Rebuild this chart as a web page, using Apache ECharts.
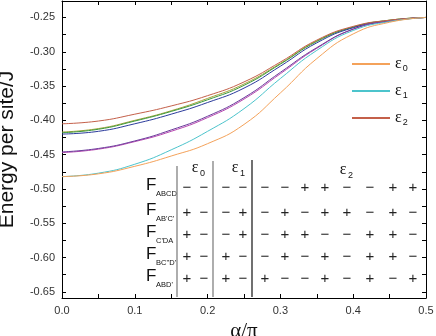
<!DOCTYPE html>
<html>
<head>
<meta charset="utf-8">
<script src="https://cdn.jsdelivr.net/npm/echarts@6/dist/echarts.min.js"></script>
<style>
  html, body { margin: 0; padding: 0; background: #fff; }
  #main { width: 436px; height: 336px; }
</style>
</head>
<body>
<div id="main"></div>
<script>
// alpha/pi sample points
const alpha = [0, 0.05, 0.1, 0.15, 0.2, 0.25, 0.3, 0.35, 0.4, 0.45, 0.5];

// energy per site
const eps0 = [-0.482, -0.478, -0.467, -0.452, -0.434, -0.406, -0.360, -0.310, -0.274, -0.257, -0.250];
const eps1 = [-0.482, -0.477, -0.464, -0.443, -0.416, -0.383, -0.339, -0.298, -0.269, -0.256, -0.250];
const eps2 = [-0.405, -0.401, -0.391, -0.379, -0.364, -0.344, -0.315, -0.283, -0.263, -0.254, -0.250];
const greenCurve = [-0.418, -0.413, -0.401, -0.387, -0.370, -0.349, -0.318, -0.285, -0.264, -0.254, -0.250];
const oliveCurve = [-0.417, -0.412, -0.400, -0.386, -0.368, -0.347, -0.317, -0.284, -0.264, -0.254, -0.250];
const navyCurve = [-0.420, -0.416, -0.405, -0.391, -0.374, -0.353, -0.321, -0.287, -0.265, -0.255, -0.250];
const purpleCurve = [-0.446, -0.441, -0.430, -0.414, -0.394, -0.367, -0.330, -0.294, -0.267, -0.255, -0.250];
const magentaCurve = [-0.447, -0.442, -0.431, -0.416, -0.396, -0.369, -0.332, -0.295, -0.267, -0.255, -0.250];

// axis labels
const xLabels = [0, 0.1, 0.2, 0.3, 0.4, 0.5];
const yLabels = [-0.65, -0.60, -0.55, -0.50, -0.45, -0.40, -0.35, -0.30, -0.25];

// sign table
const tableHeads = ['0', '1', '2'];
const rowNames = ['ABCD', "AB'C'", "C'DA", "BC''D'", "ABD'"];
const signRows = [
  '−−−−−−++−−++',
  '+−−+−+−++−+−',
  '+−−+−++−−++−',
  '+−+−−+−+−++−',
  '+−+−+−−+−+−+'
];

function midTicks(arr) {
  var out = [];
  for (var i = 0; i < arr.length; i++) {
    out.push(arr[i]);
    if (i < arr.length - 1) out.push((arr[i] + arr[i + 1]) / 2);
  }
  return out;
}
const xTicks = midTicks(xLabels);
const yTicks = midTicks(yLabels);

const chart = echarts.init(document.getElementById('main'));

function mk(name, vals, color, z) {
  return {
    name: name,
    type: 'line',
    data: alpha.map(function (a, i) { return [a, vals[i]]; }),
    smooth: 0.5,
    symbol: 'none',
    lineStyle: { color: color, width: 1 },
    itemStyle: { color: color },
    z: z || 2
  };
}

// table graphics (annotation)
const colX = [187, 204, 226, 243, 265, 285, 305, 325, 347, 370, 393, 413];
const rowY = [188, 213, 235, 257, 279];
const graphics = [];
signRows.forEach(function (row, r) {
  row.split('').forEach(function (s, c) {
    graphics.push({
      type: 'text',
      style: {
        text: s, x: colX[c], y: rowY[r], fill: '#222',
        font: '15px "Liberation Sans"', align: 'center', verticalAlign: 'middle'
      }
    });
  });
  graphics.push({
    type: 'text',
    style: { text: 'F', x: 146, y: rowY[r] - 3, fill: '#111', font: '17px "Liberation Sans"', verticalAlign: 'middle' }
  });
  graphics.push({
    type: 'text',
    style: { text: rowNames[r], x: 156, y: rowY[r] + 6, fill: '#111', font: '7.5px "Liberation Sans"', verticalAlign: 'middle' }
  });
});
[[195, 168, 0], [235, 168, 1], [343, 170, 2]].forEach(function (h) {
  graphics.push({
    type: 'text',
    style: { text: 'ε', x: h[0], y: h[1], fill: '#111', font: '16px "Liberation Serif"', align: 'center', verticalAlign: 'middle' }
  });
  graphics.push({
    type: 'text',
    style: { text: tableHeads[h[2]], x: h[0] + 5, y: h[1] + 6, fill: '#111', font: '9px "Liberation Sans"', verticalAlign: 'middle' }
  });
});
[[177, 166, '#777'], [213, 161, '#777'], [252, 160, '#111']].forEach(function (v) {
  graphics.push({
    type: 'line',
    shape: { x1: v[0], y1: v[1], x2: v[0], y2: 297 },
    style: { stroke: v[2], lineWidth: 1.2 }
  });
});

const axisCommon = {
  type: 'value',
  axisLine: { show: true, onZero: false, lineStyle: { color: '#000', width: 1 } },
  splitLine: { show: false }
};

const option = {
  animation: false,
  backgroundColor: '#fff',
  grid: { left: 62, right: 10, top: 1, bottom: 38, outerBoundsMode: 'none', containLabel: false },
  legend: {
    data: ['ε0', 'ε1', 'ε2'],
    orient: 'vertical',
    left: 347,
    top: 51,
    itemWidth: 38,
    itemHeight: 2,
    itemGap: 10,
    icon: 'rect',
    selectedMode: false,
    formatter: function (n) { return '{e|ε}{s|' + n.slice(1) + '}'; },
    textStyle: {
      rich: {
        e: { fontSize: 16, fontFamily: 'Liberation Serif', color: '#111', lineHeight: 18, verticalAlign: 'middle' },
        s: { fontSize: 9, fontFamily: 'Liberation Sans', color: '#111', lineHeight: 9, verticalAlign: 'bottom', padding: [6, 0, 0, 1] }
      }
    }
  },
  xAxis: [
    Object.assign({}, axisCommon, {
      min: 0, max: 0.5, position: 'bottom',
      axisTick: { inside: true, length: 4, customValues: xTicks, lineStyle: { color: '#000' } },
      axisLabel: { customValues: xLabels, color: '#333', fontSize: 11, fontFamily: 'Liberation Sans', margin: 7,
        formatter: function (v) { return v.toFixed(1); } },
      name: 'α/π', nameLocation: 'middle', nameGap: 21,
      nameTextStyle: { fontSize: 21, fontFamily: 'Liberation Serif', color: '#111' }
    }),
    Object.assign({}, axisCommon, {
      min: 0, max: 0.5, position: 'top',
      axisTick: { inside: true, length: 4, customValues: xTicks, lineStyle: { color: '#000' } },
      axisLabel: { show: false }
    })
  ],
  yAxis: [
    Object.assign({}, axisCommon, {
      min: -0.659, max: -0.226, position: 'left',
      axisTick: { inside: true, length: 4, customValues: yTicks, lineStyle: { color: '#000' } },
      axisLabel: { customValues: yLabels, color: '#333', fontSize: 11, fontFamily: 'Liberation Sans', margin: 7,
        formatter: function (v) { return v.toFixed(2); } },
      name: 'Energy per site/J', nameLocation: 'middle', nameGap: 44,
      nameTextStyle: { fontSize: 21, fontFamily: 'Liberation Sans', color: '#111' }
    }),
    Object.assign({}, axisCommon, {
      min: -0.659, max: -0.226, position: 'right',
      axisTick: { inside: true, length: 4, customValues: yTicks, lineStyle: { color: '#000' } },
      axisLabel: { show: false }
    })
  ],
  series: [
    mk('ε2', eps2, '#c4604a', 3),
    mk('olive', oliveCurve, '#a6a23a'),
    mk('green', greenCurve, '#3c9a3c'),
    mk('navy', navyCurve, '#2c3c9c'),
    mk('magenta', magentaCurve, '#b848b0'),
    mk('purple', purpleCurve, '#6c3c9c'),
    mk('ε1', eps1, '#4cc4cc', 3),
    mk('ε0', eps0, '#f4a25a', 3)
  ],
  graphic: graphics
};

chart.setOption(option);
</script>
</body>
</html>
